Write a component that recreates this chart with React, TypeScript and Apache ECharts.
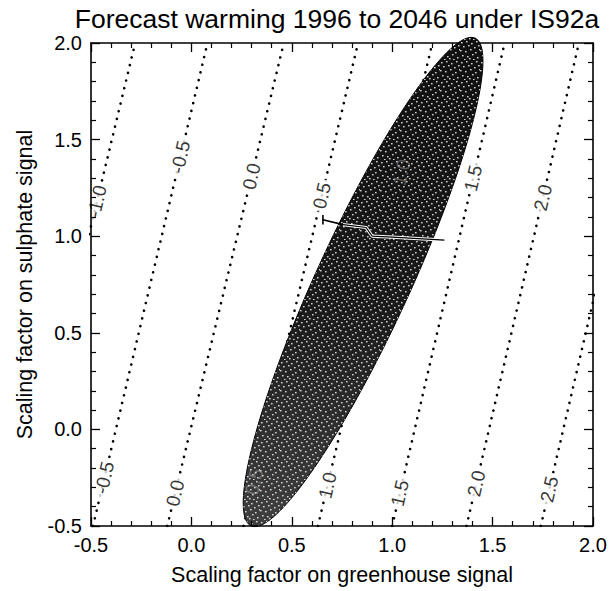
import React, { useEffect, useRef } from "react";
import * as echarts from "echarts";

// ---- data ----
const axisMin = -0.5;
const axisMax = 2.0;
const tickInterval = 0.5;

// forecast-warming contour levels (dotted lines)
const contourLevels = [-1.0, -0.5, 0.0, 0.5, 1.0, 1.5, 2.0, 2.5];
// greenhouse scaling factor where each contour meets sulphate = -0.5 and sulphate = 2.0
const contourXAtBottom = [-0.86, -0.49, -0.12, 0.26, 0.63, 1.0, 1.37, 1.74];
const contourXAtTop = [-0.28, 0.08, 0.46, 0.83, 1.2, 1.56, 1.93, 2.3];
// sulphate value at which each contour carries its label (null = no label)
const upperLabelY = [1.18, 1.41, 1.31, 1.21, 1.33, 1.3, 1.2, null];
const lowerLabelY = [null, -0.25, -0.33, -0.27, -0.29, -0.33, -0.28, -0.31];
// labels that sit under the probability cloud
const upperLabelHidden = [false, false, false, false, true, false, false, false];
const lowerLabelHidden = [false, false, false, true, false, false, false, false];

// probability ellipse of the scaling factors
const ellipseCenter = [0.855, 0.763];
const ellipseSemiMajor = 1.38;
const ellipseSemiMinor = 0.235;
const ellipseAngleDeg = 66.2;

// best-estimate bar
const barCap = [[0.655, 1.11], [0.655, 1.06]];
const barBlack = [[0.655, 1.085], [0.755, 1.06]];
const barWhite = [[0.755, 1.06], [0.87, 1.045], [0.9, 1.0], [1.0, 0.995], [1.26, 0.98]];

// texture tile of the point cloud (white specks in a 20x20 tile)
const speckTile = [
  [1, 2], [6, 1], [11, 3], [16, 1], [3, 6], [8, 5], [14, 7], [18, 5],
  [0, 10], [5, 11], [10, 9], [15, 12], [2, 15], [7, 16], [12, 14], [17, 17],
  [4, 19], [9, 18], [13, 19], [19, 9],
];

const FONT = "'Liberation Sans', Arial, Helvetica, sans-serif";

const App = () => {
  const ref = useRef<HTMLDivElement>(null);

  useEffect(() => {
    const chart = echarts.init(ref.current!, null, { renderer: "svg" });

    const xOnLine = (i: number, y: number) =>
      contourXAtBottom[i] + ((contourXAtTop[i] - contourXAtBottom[i]) * (y - axisMin)) / (axisMax - axisMin);

    const visibleLabels: any[] = [];
    const faintLabels: any[] = [];
    contourLevels.forEach((lev, i) => {
      const txt = lev.toFixed(1);
      const u = upperLabelY[i];
      if (u !== null) {
        const item = { value: [xOnLine(i, u), u], name: txt };
        (upperLabelHidden[i] ? faintLabels : visibleLabels).push(item);
      }
      const l = lowerLabelY[i];
      if (l !== null) {
        const item = { value: [xOnLine(i, l), l], name: txt };
        (lowerLabelHidden[i] ? faintLabels : visibleLabels).push(item);
      }
    });

    // speckle pattern canvas
    const tile = document.createElement("canvas");
    tile.width = 20;
    tile.height = 20;
    const ctx = tile.getContext("2d");
    if (ctx) {
      ctx.fillStyle = "rgba(255,255,255,0.8)";
      speckTile.forEach(([sx, sy]) => ctx.fillRect(sx, sy, 1.6, 1.4));
    }
    const speckPattern = { image: tile, repeat: "repeat", imageWidth: 20, imageHeight: 20 };

    const axisCommon = {
      type: "value",
      min: axisMin,
      max: axisMax,
      interval: tickInterval,
      axisLine: { show: true, onZero: false, lineStyle: { color: "#000", width: 1.6 } },
      axisTick: { show: true, inside: true, length: 9, lineStyle: { color: "#000", width: 1.3 } },
      minorTick: { show: true, splitNumber: 5, length: 5, lineStyle: { color: "#000", width: 1.2 } },
      splitLine: { show: false },
      minorSplitLine: { show: false },
    };
    const labelStyle = {
      show: true,
      fontSize: 20,
      color: "#000",
      fontFamily: FONT,
      formatter: (v: number) => v.toFixed(1),
    };
    const nameStyle = { fontSize: 21.5, color: "#000", fontFamily: FONT };

    const contourSeries = contourLevels.map((lev, i) => ({
      type: "line",
      name: "T " + lev.toFixed(1),
      data: [
        [contourXAtBottom[i], axisMin],
        [contourXAtTop[i], axisMax],
      ],
      symbol: "none",
      silent: true,
      clip: true,
      z: 2,
      lineStyle: { color: "#000", width: 2.6, type: [0.1, 7.8], cap: "round" },
    }));

    const gradient = new echarts.graphic.LinearGradient(0, 0, 0, 1, [
      { offset: 0, color: "#101010" },
      { offset: 0.55, color: "#1a1a1a" },
      { offset: 1, color: "#404040" },
    ]);

    const option: any = {
      animation: false,
      title: {
        text: "Forecast warming 1996 to 2046 under IS92a",
        left: 332,
        top: 0,
        textAlign: "center",
        textStyle: { fontSize: 26.5, fontWeight: "normal", color: "#000", fontFamily: FONT },
      },
      grid: { left: 91, right: 18, top: 43, bottom: 51, containLabel: false },
      xAxis: [
        {
          ...axisCommon,
          position: "bottom",
          z: 10,
          name: "Scaling factor on greenhouse signal",
          nameLocation: "middle",
          nameGap: 38,
          nameTextStyle: nameStyle,
          axisLabel: { ...labelStyle, margin: 9 },
        },
        { ...axisCommon, position: "top", axisLabel: { show: false } },
      ],
      yAxis: [
        {
          ...axisCommon,
          position: "left",
          z: 10,
          name: "Scaling factor on sulphate signal",
          nameLocation: "middle",
          nameGap: 55,
          nameTextStyle: nameStyle,
          axisLabel: { ...labelStyle, margin: 9 },
        },
        { ...axisCommon, position: "right", axisLabel: { show: false } },
      ],
      series: [
        ...contourSeries,
        {
          type: "scatter",
          name: "contour labels",
          data: visibleLabels,
          symbolSize: 1,
          itemStyle: { color: "rgba(0,0,0,0)" },
          silent: true,
          z: 3,
          label: {
            show: true,
            position: "inside",
            rotate: 77,
            fontSize: 19,
            color: "#000",
            fontFamily: FONT,
            backgroundColor: "#fff",
            padding: [0, 3],
            formatter: (p: any) => p.data.name,
          },
        },
        {
          type: "custom",
          name: "probability ellipse",
          data: [ellipseCenter],
          silent: true,
          clip: false,
          z: 4,
          renderItem: (_params: any, api: any) => {
            const cx = api.value(0);
            const cy = api.value(1);
            const phi = (ellipseAngleDeg * Math.PI) / 180;
            const pts: number[][] = [];
            const n = 160;
            for (let k = 0; k < n; k++) {
              const t = (2 * Math.PI * k) / n;
              const ex = ellipseSemiMajor * Math.cos(t);
              const ey = ellipseSemiMinor * Math.sin(t);
              const x = cx + ex * Math.cos(phi) - ey * Math.sin(phi);
              const y = cy + ex * Math.sin(phi) + ey * Math.cos(phi);
              pts.push(api.coord([x, y]));
            }
            return {
              type: "group",
              children: [
                {
                  type: "polygon",
                  shape: { points: pts },
                  style: { fill: gradient, stroke: "#000", lineWidth: 1 },
                },
                {
                  type: "polygon",
                  shape: { points: pts },
                  style: { fill: speckPattern, stroke: "none" },
                },
              ],
            };
          },
        },
        {
          type: "line",
          name: "cap",
          data: barCap,
          symbol: "none",
          silent: true,
          z: 5,
          lineStyle: { color: "#000", width: 1.6 },
        },
        {
          type: "line",
          name: "bar",
          data: barBlack,
          symbol: "none",
          silent: true,
          z: 5,
          lineStyle: { color: "#000", width: 1.6 },
        },
        {
          type: "line",
          name: "bar white",
          data: barWhite,
          symbol: "none",
          silent: true,
          z: 5,
          lineStyle: { color: "#fff", width: 3.2 },
        },
        {
          type: "line",
          name: "bar core",
          data: barWhite,
          symbol: "none",
          silent: true,
          z: 6,
          lineStyle: { color: "#000", width: 1.2 },
        },
        {
          type: "scatter",
          name: "faint labels",
          data: faintLabels,
          symbolSize: 1,
          itemStyle: { color: "rgba(0,0,0,0)" },
          silent: true,
          z: 7,
          label: {
            show: true,
            position: "inside",
            rotate: 77,
            fontSize: 19,
            color: "rgba(255,255,255,0.35)",
            fontFamily: FONT,
            formatter: (p: any) => p.data.name,
          },
        },
      ],
    };

    chart.setOption(option);
    return () => chart.dispose();
  }, []);

  return (
    <div
      ref={ref}
      style={{ position: "absolute", left: 0, top: 0, width: 611, height: 591, background: "#fff" }}
    />
  );
};

export default App;
